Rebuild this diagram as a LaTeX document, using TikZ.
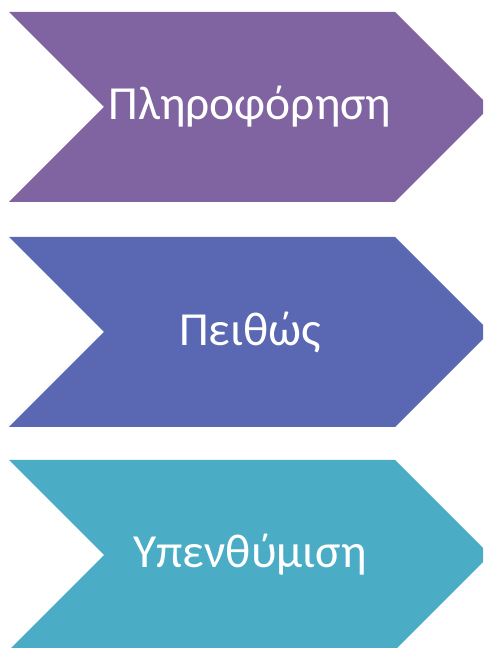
\documentclass[tikz,border=0pt]{standalone}
\usepackage{fontspec}
\setmainfont{Carlito}
\definecolor{cpurple}{HTML}{8064A2}
\definecolor{cblue}{HTML}{5A68B4}
\definecolor{cteal}{HTML}{4BACC6}
\tikzset{
  chev/.style={fill=#1, draw=none},
  lbl/.style={text=white, font=\fontsize{47.5}{52}\selectfont, inner sep=0pt, anchor=center}
}
\begin{document}
\begin{tikzpicture}[x=1pt,y=1pt]
\useasboundingbox (0,0) rectangle (483,648);
\clip (0,0) rectangle (483,648);
\foreach \c/\col in {541/cpurple, 316/cblue, 93/cteal}{
  \fill[chev=\col] (9,\c+95) -- (395,\c+95) -- (490,\c) -- (395,\c-95) -- (9,\c-95) -- (104,\c) -- cycle;
}
\node[lbl] (t1) at (250,541) {Πληροφόρηση};
\node[lbl] (t2) at (250,316) {Πειθώς};
\node[lbl] (t3) at (250,93) {Υπενθύμιση};
\end{tikzpicture}
\end{document}
